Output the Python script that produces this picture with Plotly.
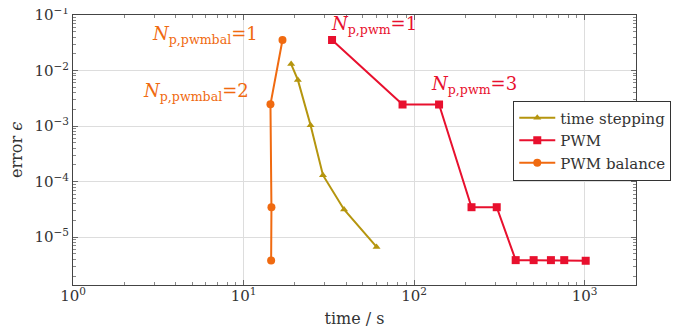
import math
import plotly.graph_objects as go

ts_time = [19.0, 20.8, 24.7, 29.2, 38.8, 60.2]
ts_err = [1.31e-2, 6.8e-3, 1.04e-3, 1.31e-4, 3.16e-5, 6.7e-6]

pwm_time = [33.0, 85.5, 140, 217, 305, 394, 502, 634, 759, 1014]
pwm_err = [3.55e-2, 2.45e-3, 2.45e-3, 3.47e-5, 3.47e-5, 3.87e-6, 3.87e-6, 3.87e-6, 3.87e-6, 3.77e-6]

bal_time = [16.9, 14.37, 14.56, 14.5]
bal_err = [3.55e-2, 2.48e-3, 3.47e-5, 3.8e-6]

x_tickvals = [1, 10, 100, 1000]
x_ticktext = ["10<sup>0</sup>", "10<sup>1</sup>", "10<sup>2</sup>", "10<sup>3</sup>"]
y_tickvals = [1e-1, 1e-2, 1e-3, 1e-4, 1e-5]
y_ticktext = ["10<sup>−1</sup>", "10<sup>−2</sup>", "10<sup>−3</sup>", "10<sup>−4</sup>", "10<sup>−5</sup>"]

C_TS = "#B5950E"
C_PWM = "#E8102E"
C_BAL = "#F06A10"
FONT = "DejaVu Serif"
TXT = "#333333"

fig = go.Figure()
fig.add_trace(go.Scatter(x=ts_time, y=ts_err, mode="lines+markers", name="time stepping",
                         line=dict(color=C_TS, width=2), marker=dict(symbol="triangle-up", size=7, color=C_TS)))
fig.add_trace(go.Scatter(x=pwm_time, y=pwm_err, mode="lines+markers", name="PWM",
                         line=dict(color=C_PWM, width=2), marker=dict(symbol="square", size=8, color=C_PWM)))
fig.add_trace(go.Scatter(x=bal_time, y=bal_err, mode="lines+markers", name="PWM balance",
                         line=dict(color=C_BAL, width=2), marker=dict(symbol="circle", size=8, color=C_BAL)))

ann_font = dict(family=FONT, size=18)
fig.add_annotation(x=math.log10(bal_time[0]), y=math.log10(bal_err[0]), text="<i>N</i><sub>p,pwmbal</sub>=1",
                   showarrow=False, xanchor="right", yanchor="middle", xshift=-22, yshift=5,
                   font=dict(color=C_BAL, **ann_font))
fig.add_annotation(x=math.log10(bal_time[1]), y=math.log10(bal_err[1]), text="<i>N</i><sub>p,pwmbal</sub>=2",
                   showarrow=False, xanchor="right", yanchor="middle", xshift=-19, yshift=12,
                   font=dict(color=C_BAL, **ann_font))
fig.add_annotation(x=math.log10(pwm_time[0]), y=math.log10(pwm_err[0]), text="<i>N</i><sub>p,pwm</sub>=1",
                   showarrow=False, xanchor="left", yanchor="middle", xshift=-3, yshift=15,
                   font=dict(color=C_PWM, **ann_font))
fig.add_annotation(x=math.log10(pwm_time[2]), y=math.log10(pwm_err[2]), text="<i>N</i><sub>p,pwm</sub>=3",
                   showarrow=False, xanchor="left", yanchor="middle", xshift=-10, yshift=20,
                   font=dict(color=C_PWM, **ann_font))

# y-axis title placed in the left margin
fig.add_annotation(x=0, y=0.5, xref="paper", yref="paper", text="error <i>ϵ</i>", textangle=-90,
                   showarrow=False, xanchor="center", yanchor="middle", xshift=-57,
                   font=dict(family=FONT, size=16, color=TXT))

axis_common = dict(type="log", showline=True, linecolor="#444444", linewidth=1, mirror="allticks",
                   ticks="inside", ticklen=5, tickcolor="#666666", automargin=False,
                   showgrid=True, gridcolor="#DDDDDD", gridwidth=1, zeroline=False,
                   tickfont=dict(family=FONT, size=15, color=TXT), ticklabeloverflow="allow",
                   minor=dict(ticks="inside", ticklen=3, tickcolor="#888888", dtick="D1", showgrid=False))

fig.update_xaxes(range=[-0.0005, 3.301], tickvals=x_tickvals, ticktext=x_ticktext,
                 ticklabelstandoff=-3,
                 title=dict(text="time / s", font=dict(family=FONT, size=16, color=TXT), standoff=8),
                 **axis_common)
fig.update_yaxes(range=[-5.86, -0.9995], tickvals=y_tickvals, ticktext=y_ticktext,
                 **axis_common)

fig.update_layout(
    width=685, height=328,
    margin=dict(l=65, r=57, t=7, b=51, autoexpand=False),
    plot_bgcolor="white", paper_bgcolor="white",
    legend=dict(x=0.782, y=0.683, xanchor="left", yanchor="top",
                bordercolor="#333333", borderwidth=1, bgcolor="white",
                font=dict(family=FONT, size=15, color=TXT),
                itemwidth=36, tracegroupgap=0),
    showlegend=True,
)

fig.write_html("out.html")
